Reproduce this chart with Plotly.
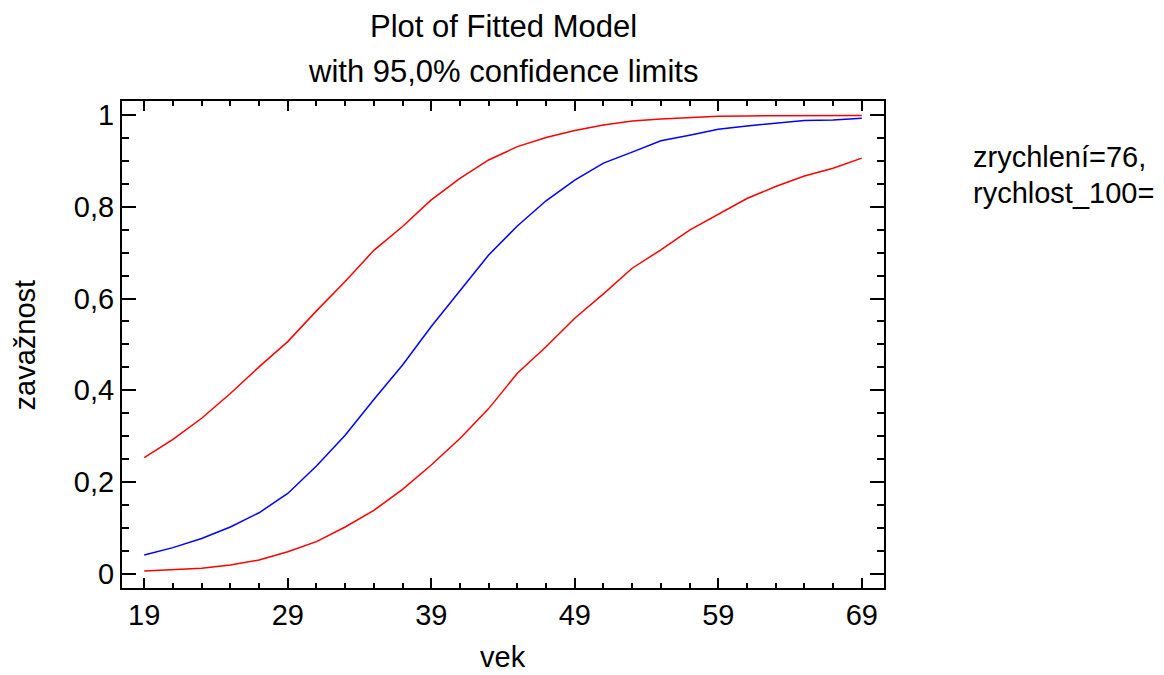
import plotly.graph_objects as go

# ---- data ----
vek = [19, 21, 23, 25, 27, 29, 31, 33, 35, 37, 39, 41, 43, 45, 47, 49,
       51, 53, 55, 57, 59, 61, 63, 65, 67, 69]
fitted = [0.041, 0.057, 0.077, 0.102, 0.133, 0.175, 0.235, 0.302, 0.380, 0.455,
          0.539, 0.618, 0.695, 0.758, 0.813, 0.858, 0.895, 0.919, 0.944, 0.956,
          0.969, 0.976, 0.982, 0.988, 0.989, 0.993]
upper = [0.253, 0.293, 0.339, 0.393, 0.451, 0.506, 0.573, 0.637, 0.705, 0.757,
         0.815, 0.862, 0.902, 0.931, 0.951, 0.966, 0.978, 0.987, 0.991, 0.994,
         0.997, 0.998, 0.998, 0.999, 0.999, 0.999]
lower = [0.006, 0.009, 0.012, 0.019, 0.030, 0.048, 0.070, 0.102, 0.138, 0.184,
         0.237, 0.295, 0.360, 0.437, 0.495, 0.557, 0.610, 0.666, 0.706, 0.749,
         0.784, 0.818, 0.844, 0.867, 0.884, 0.906]

x_tickvals = [19, 29, 39, 49, 59, 69]
y_tickvals = [0, 0.2, 0.4, 0.6, 0.8, 1]
y_ticktext = ["0", "0,2", "0,4", "0,6", "0,8", "1"]

title_lines = ["Plot of Fitted Model", "with 95,0% confidence limits"]
side_lines = ["zrychlení=76,", "rychlost_100="]

FONT = "Liberation Sans, Arial, sans-serif"
FS = 29
TFS = 31

fig = go.Figure()
fig.add_trace(go.Scatter(x=vek, y=upper, mode="lines",
                         line=dict(color="#FF0000", width=1.5), showlegend=False))
fig.add_trace(go.Scatter(x=vek, y=lower, mode="lines",
                         line=dict(color="#FF0000", width=1.5), showlegend=False))
fig.add_trace(go.Scatter(x=vek, y=fitted, mode="lines",
                         line=dict(color="#0000FF", width=1.5), showlegend=False))

axis_common = dict(showline=True, linecolor="black", linewidth=2, mirror="ticks",
                   showgrid=False, zeroline=False, ticks="inside",
                   tickcolor="black", tickwidth=1.5,
                   tickfont=dict(family=FONT, size=FS, color="black"))

fig.update_xaxes(range=[17.45, 70.55], tickvals=x_tickvals, ticklen=10,
                 minor=dict(dtick=2, tick0=19, ticks="inside", ticklen=5,
                            tickwidth=1.5, tickcolor="black", showgrid=False),
                 **axis_common)
fig.update_yaxes(range=[-0.031, 1.0305], tickvals=y_tickvals, ticktext=y_ticktext,
                 ticklen=14,
                 minor=dict(dtick=0.05, tick0=0, ticks="inside", ticklen=7,
                            tickwidth=1.5, tickcolor="black", showgrid=False),
                 **axis_common)

annotations = [
    dict(text=title_lines[0], x=0.5, y=1.152, xref="paper", yref="paper",
         xanchor="center", yanchor="middle", showarrow=False,
         font=dict(family=FONT, size=TFS, color="black")),
    dict(text=title_lines[1], x=0.5, y=1.0616, xref="paper", yref="paper",
         xanchor="center", yanchor="middle", showarrow=False,
         font=dict(family=FONT, size=TFS, color="black")),
    dict(text="vek", x=0.5, y=-0.141, xref="paper", yref="paper",
         xanchor="center", yanchor="middle", showarrow=False,
         font=dict(family=FONT, size=FS, color="black")),
    dict(text="zavažnost", x=-0.1273, y=0.5, xref="paper", yref="paper",
         xanchor="center", yanchor="middle", textangle=-90, showarrow=False,
         font=dict(family=FONT, size=FS, color="black")),
    dict(text=side_lines[0], x=1.1142, y=(588 - 157) / 487, xref="paper", yref="paper",
         xanchor="left", yanchor="middle", showarrow=False,
         font=dict(family=FONT, size=FS, color="black")),
    dict(text=side_lines[1], x=1.1142, y=(588 - 193) / 487, xref="paper", yref="paper",
         xanchor="left", yanchor="middle", showarrow=False,
         font=dict(family=FONT, size=FS, color="black")),
]

# The page body has an 8px margin, so the figure is shifted up/left by 8px
fig.update_layout(width=1156, height=667, autosize=False,
                  margin=dict(l=114, r=280, t=93, b=87, pad=0),
                  plot_bgcolor="white", paper_bgcolor="white",
                  annotations=annotations, showlegend=False,
                  font=dict(family=FONT, size=FS, color="black"))

fig.write_html("out.html")
